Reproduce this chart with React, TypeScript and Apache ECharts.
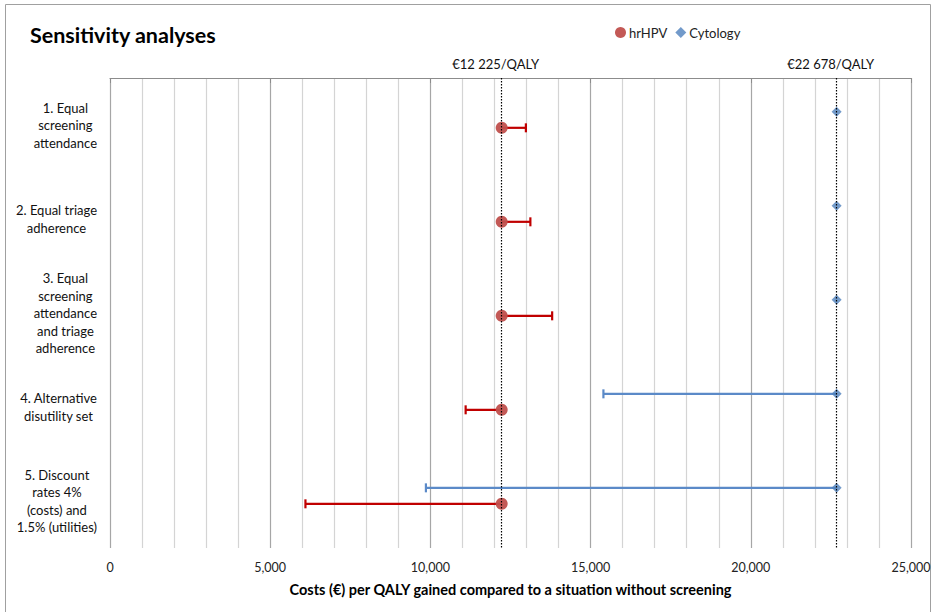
import React, { useEffect, useRef } from "react";
import * as echarts from "echarts";

const categories = [
  "1. Equal\nscreening\nattendance",
  "2. Equal triage\nadherence",
  "3. Equal\nscreening\nattendance\nand triage\nadherence",
  "4. Alternative\ndisutility set",
  "5. Discount\nrates 4%\n(costs) and\n1.5% (utilities)",
];

const hrhpvPoint = [12225, 12225, 12225, 12225, 12225];
const hrhpvLow = [12225, 12225, 12225, 11100, 6100];
const hrhpvHigh = [12980, 13120, 13800, 12225, 12225];

const cytoPoint = [22678, 22678, 22678, 22678, 22678];
const cytoLow = [22678, 22678, 22678, 15400, 9860];
const cytoHigh = [22678, 22678, 22678, 22678, 22678];

const thresholds = [12225, 22678];
const thresholdLabels = ["€12 225/QALY", "€22 678/QALY"];

const xTicks = [0, 5000, 10000, 15000, 20000, 25000];

const FONT = "Lato";
const RED_MARK = "#C0504D";
const RED_BAR = "#C00000";
const BLUE_MARK = "#4F81BD";
const BLUE_BAR = "#5B8AC8";

const HR_OFFSET = 0.53;
const CY_OFFSET = 0.36;

function errorRender(color: string) {
  return (params: any, api: any) => {
    const y = api.value(0);
    const lo = api.value(1);
    const hi = api.value(2);
    const pt = api.value(3);
    if (!(hi > lo)) return { type: "group", children: [] };
    const p1 = api.coord([lo, y]);
    const p2 = api.coord([hi, y]);
    const cap = 4.5;
    const style = { stroke: color, lineWidth: 2.2 };
    const children: any[] = [
      { type: "line", shape: { x1: p1[0], y1: p1[1], x2: p2[0], y2: p2[1] }, style },
    ];
    if (lo < pt)
      children.push({ type: "line", shape: { x1: p1[0], y1: p1[1] - cap, x2: p1[0], y2: p1[1] + cap }, style });
    if (hi > pt)
      children.push({ type: "line", shape: { x1: p2[0], y1: p2[1] - cap, x2: p2[0], y2: p2[1] + cap }, style });
    return { type: "group", children };
  };
}

export default function App() {
  const ref = useRef<HTMLDivElement>(null);
  useEffect(() => {
    document.body.style.margin = "0";
    const chart = echarts.init(ref.current!, null, { renderer: "svg" });
    const hrErr = categories.map((_, i) => [i + HR_OFFSET, hrhpvLow[i], hrhpvHigh[i], hrhpvPoint[i]]);
    const cyErr = categories.map((_, i) => [i + CY_OFFSET, cytoLow[i], cytoHigh[i], cytoPoint[i]]);
    const hrPts = categories.map((_, i) => [hrhpvPoint[i], i + HR_OFFSET]);
    const cyPts = categories.map((_, i) => [cytoPoint[i], i + CY_OFFSET]);

    chart.setOption({
      animation: false,
      backgroundColor: "#fff",
      textStyle: { fontFamily: FONT },
      title: {
        text: "Sensitivity analyses",
        left: 25,
        top: 19,
        textStyle: { fontFamily: FONT, fontSize: 21.5, fontWeight: "bold", color: "#000" },
      },
      legend: {
        data: [
          { name: "hrHPV", icon: "circle" },
          { name: "Cytology", icon: "diamond" },
        ],
        left: 610,
        top: 21,
        itemWidth: 11,
        itemHeight: 11,
        itemGap: 8,
        textStyle: { fontFamily: FONT, fontSize: 13, color: "#222", padding: [0, 0, 0, -2] },
      },
      graphic: [
        {
          type: "rect",
          shape: { x: 5.5, y: 4.5, width: 925, height: 700 },
          style: { fill: "none", stroke: "#A0A0A0", lineWidth: 1 },
          silent: true,
          z: -10,
        },
      ],
      grid: { left: 110, right: 24, top: 78, bottom: 64 },
      xAxis: {
        type: "value",
        min: 0,
        max: 25000,
        interval: 5000,
        name: "Costs (€) per QALY gained compared to a situation without screening",
        nameLocation: "middle",
        nameGap: 34,
        nameTextStyle: { fontFamily: FONT, fontSize: 14.5, fontWeight: "bold", color: "#000" },
        axisLine: { show: true, lineStyle: { color: "#8C8C8C", width: 1 } },
        axisTick: { show: true, length: 5, lineStyle: { color: "#8C8C8C" } },
        axisLabel: {
          margin: 13,
          fontFamily: FONT,
          fontSize: 12.5,
          color: "#222",
          customValues: xTicks,
          formatter: (v: number) => v.toLocaleString("en-US"),
        },
        splitLine: { show: true, lineStyle: { color: "#A6A6A6", width: 1.2 } },
        minorTick: { show: false, splitNumber: 5 },
        minorSplitLine: { show: true, lineStyle: { color: "#D4D4D4", width: 1.2 } },
      },
      yAxis: [
        {
          type: "value",
          min: 0,
          max: 5,
          inverse: true,
          show: false,
          position: "left",
        },
        {
          type: "category",
          data: categories,
          inverse: true,
          position: "left",
          axisLine: { show: false },
          axisTick: { show: false },
          splitLine: { show: false },
          axisLabel: {
            margin: 13,
            align: "right",
            formatter: (v: string) => v.split("\n").map((l) => `{c|${l}}`).join("\n"),
            rich: {
              c: { align: "center", fontFamily: FONT, fontSize: 13, lineHeight: 17.5, color: "#111" },
            },
          },
        },
      ],
      series: [
        {
          name: "hrHPV-err",
          type: "custom",
          yAxisIndex: 0,
          renderItem: errorRender(RED_BAR),
          encode: { x: [1, 2], y: 0 },
          data: hrErr,
          z: 2,
          silent: true,
        },
        {
          name: "Cytology-err",
          type: "custom",
          yAxisIndex: 0,
          renderItem: errorRender(BLUE_BAR),
          encode: { x: [1, 2], y: 0 },
          data: cyErr,
          z: 2,
          silent: true,
        },
        {
          name: "hrHPV",
          type: "scatter",
          yAxisIndex: 0,
          symbol: "circle",
          symbolSize: 12,
          itemStyle: { color: RED_MARK, opacity: 0.95 },
          data: hrPts,
          z: 3,
        },
        {
          name: "Cytology",
          type: "scatter",
          yAxisIndex: 0,
          symbol: "diamond",
          symbolSize: 10,
          itemStyle: { color: BLUE_MARK },
          data: cyPts,
          z: 3,
        },
        {
          name: "thresholds",
          type: "scatter",
          yAxisIndex: 0,
          data: [],
          z: 5,
          markLine: {
            silent: true,
            symbol: "none",
            lineStyle: { color: "#000", type: [1.5, 1.5], width: 1.2 },
            label: {
              show: true,
              position: "start",
              distance: 8,
              fontFamily: FONT,
              fontSize: 13,
              color: "#111",
            },
            data: thresholds.map((t, i) => [
              { coord: [t, 0], label: { formatter: thresholdLabels[i], offset: [-6, 0] } },
              { coord: [t, 5] },
            ]),
          },
        },
      ],
    });
    return () => chart.dispose();
  }, []);
  return <div ref={ref} style={{ width: 935, height: 612 }} />;
}
